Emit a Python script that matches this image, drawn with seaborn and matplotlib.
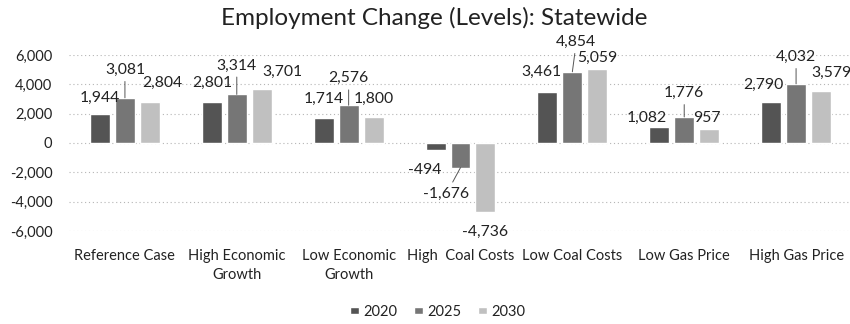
import matplotlib
matplotlib.use("Agg")
import matplotlib.pyplot as plt
import seaborn as sns
import pandas as pd

# Scenario categories and yearly employment change
scenarios = ["Reference Case", "High Economic\nGrowth", "Low Economic\nGrowth",
             "High  Coal Costs", "Low Coal Costs", "Low Gas Price", "High Gas Price"]
years = ["2020", "2025", "2030"]
values_2020 = [1944, 2801, 1714, -494, 3461, 1082, 2790]
values_2025 = [3081, 3314, 2576, -1676, 4854, 1776, 4032]
values_2030 = [2804, 3701, 1800, -4736, 5059, 957, 3579]
y_ticks = [-6000, -4000, -2000, 0, 2000, 4000, 6000]

# Label placement (pixel offsets from each bar end), per scenario then year
label_offsets = [
    [(0, 17), (0, 28), (12, 19)],
    [(0, 19), (0, 29), (21, 17)],
    [(0, 19), (0, 27), (0, 18)],
    [(-11, -20), (-14, -26), (0, -19)],
    [(-6, 20), (4, 30), (0, 11)],
    [(-12, 9), (0, 24), (-2, 11)],
    [(-8, 17), (0, 27), (10, 18)],
]

df = pd.DataFrame({
    "scenario": scenarios * 3,
    "year": sum([[y] * len(scenarios) for y in years], []),
    "value": values_2020 + values_2025 + values_2030,
})

sns.set_theme(style="white")
plt.rcParams["font.family"] = ["Lato", "DejaVu Sans"]

fig = plt.figure(figsize=(8.5, 3.24), dpi=100)
ax = fig.add_axes([69 / 850, 1 - 231 / 324, 783 / 850, 176 / 324])

palette = {"2020": "#545454", "2025": "#767676", "2030": "#c0c0c0"}
sns.barplot(data=df, x="scenario", y="value", hue="year", order=scenarios,
            hue_order=years, palette=palette, width=0.67, gap=0.2,
            saturation=1, ax=ax, legend=True)

ax.set_ylim(-6000, 6000)
ax.set_xlim(-0.5, 6.5)
ax.set_yticks(y_ticks)
ax.set_yticklabels([f"{t:,}" for t in y_ticks])
ax.set_xlabel("")
ax.set_ylabel("")
ax.tick_params(axis="both", length=0, labelsize=10.5, colors="#222222")
ax.tick_params(axis="y", pad=12)
ax.tick_params(axis="x", pad=13)
for lbl in ax.get_xticklabels():
    lbl.set_linespacing(1.45)
ax.yaxis.grid(True, linestyle=(0, (1, 2.5)), color="#b5b5b5", linewidth=0.8)
ax.xaxis.grid(False)
ax.set_axisbelow(True)
sns.despine(ax=ax, left=True, bottom=True)

# Value labels with leader lines on the middle series
for yi, container in enumerate(ax.containers):
    for si, bar in enumerate(container):
        val = bar.get_height()
        x = bar.get_x() + bar.get_width() / 2
        dx, dy = label_offsets[si][yi]
        arrow = dict(arrowstyle="-", color="#555555", lw=0.7,
                     shrinkA=1, shrinkB=0) if yi == 1 else None
        ax.annotate(f"{val:,.0f}", xy=(x, val), xytext=(dx, dy),
                    textcoords="offset pixels", ha="center", va="center",
                    fontsize=11.3, color="#222222", arrowprops=arrow)

handles, labels = ax.get_legend_handles_labels()
ax.get_legend().remove()
fig.legend(handles, labels, loc="center", bbox_to_anchor=(0.515, 1 - 312 / 324),
           ncol=3, frameon=False, fontsize=10.5, handlelength=0.6,
           handleheight=0.4, handletextpad=0.35, columnspacing=1.1,
           labelcolor="#222222")

fig.text(0.511, 1 - 18 / 324, "Employment Change (Levels): Statewide",
         ha="center", va="center", fontsize=17.5, color="#222222")

fig.savefig("out.png", dpi=100)
